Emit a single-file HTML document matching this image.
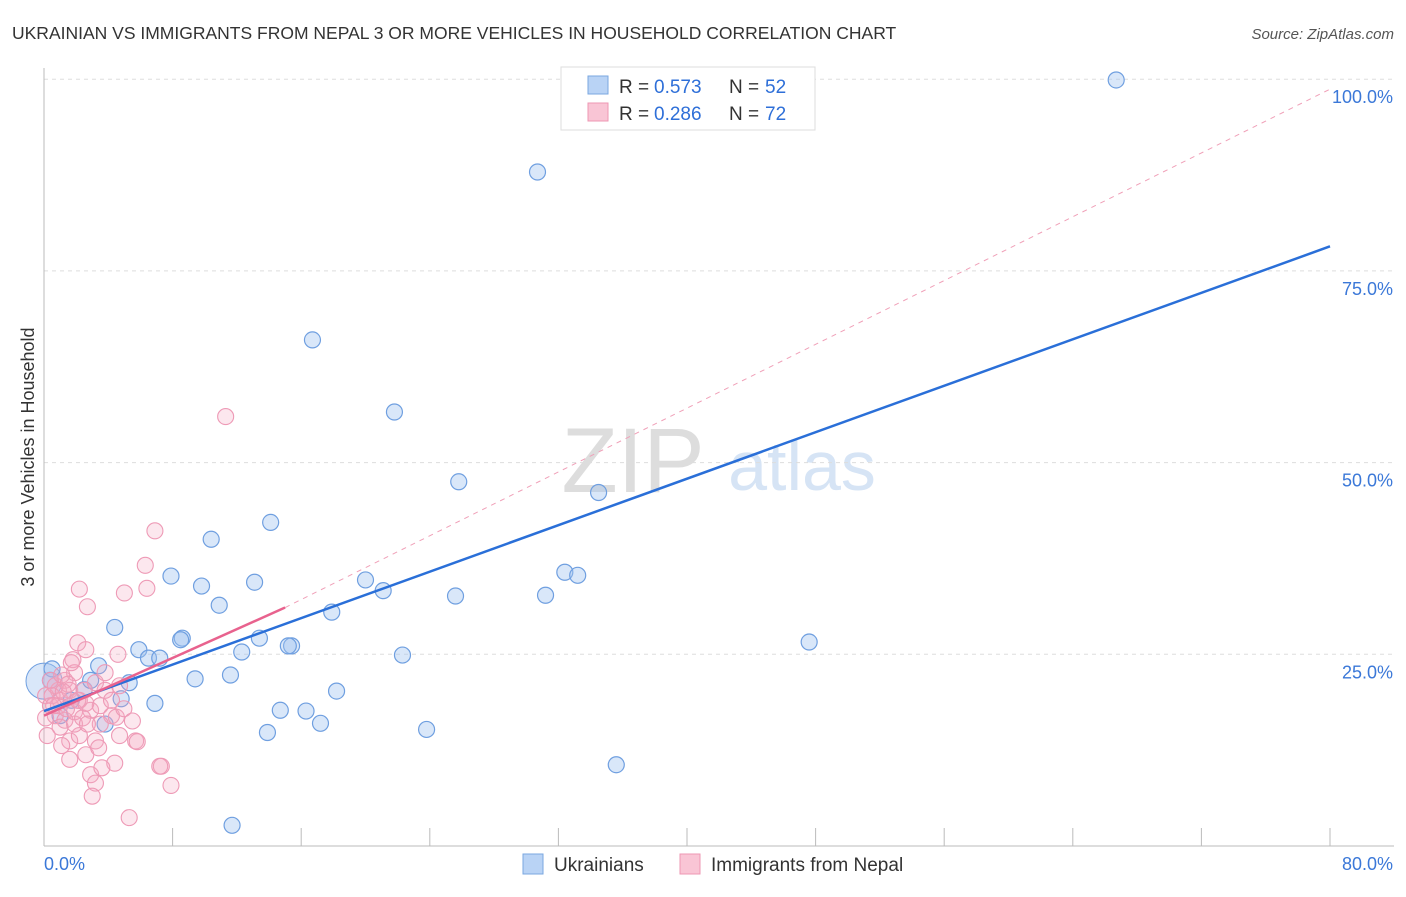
<!DOCTYPE html>
<html><head><meta charset="utf-8"><style>
body{margin:0;background:#fff;font-family:"Liberation Sans",sans-serif;}
svg text{font-family:"Liberation Sans",sans-serif;}
</style></head><body>
<svg id="c" width="1406" height="892">
<text x="12" y="39" font-size="17.5" fill="#333">UKRAINIAN VS IMMIGRANTS FROM NEPAL 3 OR MORE VEHICLES IN HOUSEHOLD CORRELATION CHART</text>
<text x="1394" y="39" font-size="15" fill="#555" font-style="italic" text-anchor="end">Source: ZipAtlas.com</text>
<text x="633" y="492" font-size="92" fill="#ddd" font-family="Liberation Serif" text-anchor="middle">ZIP</text>
<text x="802" y="490" font-size="70" fill="#d6e4f5" text-anchor="middle">atlas</text>
<text transform="translate(34,457) rotate(-90)" font-size="18" fill="#333" text-anchor="middle">3 or more Vehicles in Household</text>
<g id="grid"></g><g id="pts"></g><g id="lines"></g>
<g>
<rect x="561" y="67" width="254" height="63" fill="#fff" stroke="#ddd"/>
<rect x="588" y="76" width="20" height="18" fill="#b9d3f5" stroke="#7aa7e0"/>
<rect x="588" y="103" width="20" height="18" fill="#f9c5d5" stroke="#ee97b3"/>
<text x="619" y="93" font-size="19" fill="#333">R = </text><text x="654" y="93" font-size="19" fill="#2e6fd8">0.573</text>
<text x="729" y="93" font-size="19" fill="#333">N = </text><text x="765" y="93" font-size="19" fill="#2e6fd8">52</text>
<text x="619" y="120" font-size="19" fill="#333">R = </text><text x="654" y="120" font-size="19" fill="#2e6fd8">0.286</text>
<text x="729" y="120" font-size="19" fill="#333">N = </text><text x="765" y="120" font-size="19" fill="#2e6fd8">72</text>
</g>
<g>
<rect x="523" y="854" width="20" height="20" fill="#b9d3f5" stroke="#7aa7e0"/>
<text x="554" y="871" font-size="19" fill="#333">Ukrainians</text>
<rect x="680" y="854" width="20" height="20" fill="#f9c5d5" stroke="#ee97b3"/>
<text x="711" y="871" font-size="19" fill="#333">Immigrants from Nepal</text>
</g>
</svg>
<script>
const xTicks=["0.0%","80.0%"];
const yTickVals=[25,50,75,100];
const yTickLabels=["25.0%","50.0%","75.0%","100.0%"];
const blueX=[66.7,30.7,16.7,21.8,25.8,34.5,14.1,10.4,7.9,9.8,13.1,10.9,20.0,21.1,17.9,25.6,31.2,32.4,33.2,4.4,5.9,8.6,8.5,13.4,12.3,15.4,15.2,22.3,6.5,7.2,47.6,3.4,5.3,9.4,11.6,18.2,14.7,16.3,17.2,6.9,4.8,3.8,13.9,23.8,35.6,11.7,0.5,1.0,2.5,1.7,0.4,2.9];
const blueY=[99.9,87.9,66.0,56.6,47.5,46.1,42.2,40.0,35.2,33.9,34.4,31.4,34.7,33.3,30.5,32.6,32.7,35.7,35.3,28.5,25.6,27.1,26.9,27.1,25.3,26.1,26.1,24.9,24.5,24.5,26.6,23.5,21.3,21.8,22.3,20.2,17.7,17.6,16.0,18.6,19.2,15.9,14.8,15.2,10.6,2.7,23.1,17.0,20.4,19.0,21.6,21.6];
const pinkX=[11.3,6.9,6.3,2.2,6.4,5.0,2.7,2.1,2.6,1.8,4.6,1.9,1.3,0.9,0.1,0.4,1.0,1.6,0.7,1.3,2.2,2.9,3.5,4.2,3.8,4.7,0.2,1.6,2.2,1.1,3.2,4.7,5.7,2.6,2.9,3.2,3.0,5.3,7.3,7.2,7.9,4.4,4.5,5.8,3.5,1.9,0.4,0.7,1.1,1.5,0.5,0.9,1.4,1.9,2.4,2.7,1.0,1.6,2.1,2.5,3.2,3.8,4.2,4.97,5.5,3.4,3.6,0.1,0.6,1.2,1.7,2.6];
const pinkY=[56.0,41.1,36.6,33.5,33.6,33.0,31.2,26.5,25.6,24.3,25.0,22.6,21.6,20.3,19.6,18.3,19.0,20.3,17.0,16.4,19.0,17.7,18.3,17.0,20.3,20.9,14.4,13.7,14.4,13.1,13.7,14.4,13.7,11.9,9.3,8.2,6.5,3.7,10.4,10.4,7.9,10.8,16.8,13.6,15.9,15.9,21.6,20.9,22.3,21.1,19.6,18.3,17.9,17.5,16.7,15.9,15.5,11.3,19.0,20.3,21.3,22.6,19.0,17.9,16.3,12.8,10.2,16.7,18.3,20.1,23.9,18.6];
const blueFit=[17.6,78.2];
const pinkFit=[17.0,31.1,98.7];
const X=v=>44+v/80*1286, Y=v=>846-v*7.668;
const ns="http://www.w3.org/2000/svg";
function mk(t,a,p){const e=document.createElementNS(ns,t);for(const k in a)e.setAttribute(k,a[k]);p.appendChild(e);return e;}
const grid=document.getElementById('grid');
yTickVals.forEach((v,i)=>{
 const l=mk('line',{x1:44,x2:1394,y1:Y(v),y2:Y(v),stroke:'#ddd','stroke-dasharray':'4,4'},grid);
 
 
 const t=mk('text',{x:1393,y:Y(v)+24,'font-size':18,fill:'#3b78d8','text-anchor':'end'},grid);t.textContent=yTickLabels[i];
 
 
});
mk('line',{x1:44,x2:44,y1:68,y2:846,stroke:'#bbb'},grid);
mk('line',{x1:44,x2:1394,y1:846,y2:846,stroke:'#bbb'},grid);
for(let i=1;i<=10;i++){mk('line',{x1:X(i*8),x2:X(i*8),y1:828,y2:846,stroke:'#bbb'},grid);}
const t0=mk('text',{x:44,y:870,'font-size':18,fill:'#3b78d8'},grid);t0.textContent=xTicks[0];


const t1=mk('text',{x:1393,y:870,'font-size':18,fill:'#3b78d8','text-anchor':'end'},grid);t1.textContent=xTicks[1];


const pts=document.getElementById('pts');
const big=mk('circle',{cx:X(0),cy:Y(21.5),r:18,fill:'rgba(160,195,240,0.4)',stroke:'#6f9fe0'},pts);


blueX.forEach((x,i)=>{const c=mk('circle',{cx:X(x),cy:Y(blueY[i]),r:8,fill:'rgba(160,195,240,0.4)',stroke:'#6f9fe0','stroke-width':1.2},pts);
 
 });
pinkX.forEach((x,i)=>{const c=mk('circle',{cx:X(x),cy:Y(pinkY[i]),r:8,fill:'rgba(245,170,195,0.28)',stroke:'#ee9ab6','stroke-width':1.1},pts);
 
 });
const lines=document.getElementById('lines');
const pd=mk('line',{x1:X(15),y1:Y(pinkFit[1]),x2:X(80),y2:Y(pinkFit[2]),stroke:'#f0a0b8','stroke-dasharray':'5,5','stroke-width':1},lines);


const bl=mk('line',{x1:X(0),y1:Y(blueFit[0]),x2:X(80),y2:Y(blueFit[1]),stroke:'#2a6fd8','stroke-width':2.5},lines);


const pl=mk('line',{x1:X(0),y1:Y(pinkFit[0]),x2:X(15),y2:Y(pinkFit[1]),stroke:'#e8628e','stroke-width':2.5},lines);


</script>
</body></html>
